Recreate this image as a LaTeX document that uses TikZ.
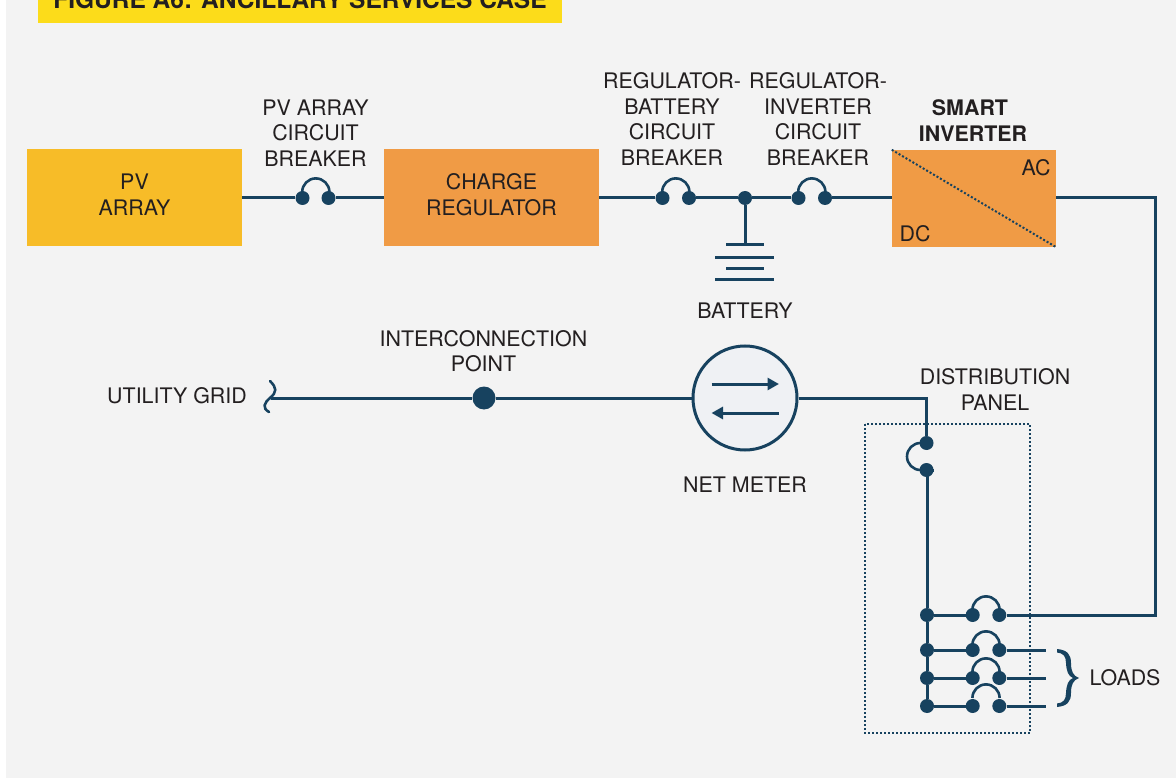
\documentclass[tikz,border=0pt]{standalone}
\usepackage{fontspec}
\setmainfont{TeX Gyre Heros}
\usetikzlibrary{arrows.meta}
\definecolor{wirec}{HTML}{17425F}
\definecolor{txtc}{HTML}{231F20}
\definecolor{pvc}{HTML}{F7BC28}
\definecolor{orc}{HTML}{F09B45}
\definecolor{hdc}{HTML}{FCDC1A}
\definecolor{bgc}{HTML}{F3F3F3}
\definecolor{mtc}{HTML}{EFF1F4}
\tikzset{
  x=1pt,y=1pt,
  wire/.style={draw=wirec,line width=3pt},
  thinwire/.style={draw=wirec,line width=2.6pt},
  dotline/.style={draw=wirec,line width=2pt,dash pattern=on 2pt off 2pt},
  lbl/.style={align=center,text=txtc,inner sep=0pt,font=\fontsize{21.4}{25.6}\selectfont},
  box/.style={lbl,rectangle,minimum width=#1,minimum height=97pt},
  jdot/.style={circle,fill=wirec,draw=none,minimum size=14pt,inner sep=0pt},
  bigdot/.style={circle,fill=wirec,draw=none,minimum size=23pt,inner sep=0pt},
}
\newcommand{\fusearc}[2]{\draw[thinwire] (#1) ++(-0.3,#2) arc[start angle=180,end angle=0,radius=13.6];}
\begin{document}
\begin{tikzpicture}
\useasboundingbox (0,0) rectangle (1176,-778);
\clip (0,0) rectangle (1176,-778);
\fill[white] (0,0) rectangle (1176,-778);
\fill[bgc] (6,0) rectangle (1176,-778);
% header
\node[fill=hdc,minimum width=524pt,minimum height=33pt,inner sep=0pt,anchor=south west] (hdr) at (38,-23) {};
\node[lbl,font=\fontsize{24.5}{28}\selectfont\bfseries,anchor=base] (title) at (300,-9) {FIGURE A6: ANCILLARY SERVICES CASE};
% boxes
\node[box=215pt,fill=pvc] (pv) at (134.5,-197.5) {};
\node[box=215pt,fill=orc] (cr) at (491.5,-197.5) {};
\node[lbl] (pvt) at (134.5,-194.5) {PV\\ARRAY};
\node[lbl] (crt) at (491.5,-194.5) {CHARGE\\REGULATOR};
\node[box=164pt,fill=orc] (inv) at (974,-198.5) {};
\draw[dotline] (inv.north west) -- (inv.south east);
\node[lbl] (ac) at (1036,-168) {AC};
\node[lbl] (dc) at (915,-234) {DC};
% top labels
\node[lbl] (l1) at (315.5,-133) {PV ARRAY\\CIRCUIT\\BREAKER};
\node[lbl] (l2) at (672,-119) {REGULATOR-\\BATTERY\\CIRCUIT\\BREAKER};
\node[lbl] (l3) at (818,-119) {REGULATOR-\\INVERTER\\CIRCUIT\\BREAKER};
\node[lbl,font=\fontsize{21.4}{25.6}\selectfont\bfseries] (l4a) at (970,-108) {SMART};
\node[lbl,font=\fontsize{21.4}{25.6}\selectfont\bfseries] (l4b) at (973,-134) {INVERTER};
\node[lbl] (batl) at (745,-311) {BATTERY};
\node[lbl] (ipl) at (483.5,-351) {INTERCONNECTION\\POINT};
\node[lbl] (ugl) at (177,-396) {UTILITY GRID};
\node[lbl] (nml) at (745,-485) {NET METER};
\node[lbl] (dpl) at (995,-389.5) {DISTRIBUTION\\PANEL};
\node[lbl] (lds) at (1125,-678) {LOADS};
% breaker dots, top row
\node[jdot] (f1a) at (302.5,-198) {};
\node[jdot] (f1b) at (328.5,-198) {};
\node[jdot] (f2a) at (662.5,-198) {};
\node[jdot] (f2b) at (689,-198) {};
\node[jdot] (jb) at (745,-198) {};
\node[jdot] (f3a) at (798.5,-198) {};
\node[jdot] (f3b) at (825,-198) {};
\draw[wire] (pv.east |- f1a) -- (f1a);
\draw[wire] (f1b) -- (cr.west |- f1b);
\draw[wire] (cr.east |- f2a) -- (f2a);
\draw[wire] (f2b) -- (jb);
\draw[wire] (jb) -- (f3a);
\draw[wire] (f3b) -- (inv.west |- f3b);
\fusearc{f1a}{6}
\fusearc{f2a}{6}
\fusearc{f3a}{6}
% battery
\coordinate (bt) at (745,-244.5);
\draw[wire] (jb) -- (bt);
\coordinate (p1l) at (726,-244.5); \coordinate (p1r) at (764,-244.5);
\coordinate (p2l) at (715,-258); \coordinate (p2r) at (774,-258);
\coordinate (p3l) at (726,-269); \coordinate (p3r) at (764,-269);
\coordinate (p4l) at (715,-280); \coordinate (p4r) at (774,-280);
\draw[wire] (p1l) -- (p1r);
\draw[wire] (p2l) -- (p2r);
\draw[wire] (p3l) -- (p3r);
\draw[wire] (p4l) -- (p4r);
% grid line and meter
\node[circle,draw=wirec,fill=mtc,line width=3pt,minimum size=104pt,inner sep=0pt] (nm) at (745,-398) {};
\node[bigdot] (ip) at (484,-398) {};
\coordinate (gs) at (271,-398);
\draw[wire] (gs) -- (ip);
\draw[wire] (ip) -- (nm);
\draw[thinwire,line cap=round] (270,-381) .. controls (277,-388) and (277,-392) .. (270,-398) .. controls (264,-403) and (262,-408) .. (269,-412);
\coordinate (a1s) at (711.5,-384); \coordinate (a1e) at (779,-384);
\coordinate (a2s) at (778.5,-413); \coordinate (a2e) at (711.5,-413);
\draw[wire,-{Triangle[length=11.5pt,width=12pt]}] (a1s) -- (a1e);
\draw[wire,-{Triangle[length=11.5pt,width=12pt]}] (a2s) -- (a2e);
% panel
\node[jdot] (pa) at (926.5,-443) {};
\node[jdot] (pb) at (926.5,-470) {};
\coordinate (nc) at (926.5,-398);
\draw[wire] (nm) -- (nc) -- (pa);
\draw[thinwire] (pa) ++(-6,0) arc[start angle=90,end angle=270,radius=13.5];
\node[jdot] (r1) at (927,-615) {};
\node[jdot] (r2) at (927,-650) {};
\node[jdot] (r3) at (927,-678) {};
\node[jdot] (r4) at (927,-706) {};
\node[jdot] (a1) at (972.7,-615) {};
\node[jdot] (b1) at (999.3,-615) {};
\node[jdot] (a2) at (972.7,-650) {};
\node[jdot] (b2) at (999.3,-650) {};
\node[jdot] (a3) at (972.7,-678) {};
\node[jdot] (b3) at (999.3,-678) {};
\node[jdot] (a4) at (972.7,-706) {};
\node[jdot] (b4) at (999.3,-706) {};
\draw[wire] (pb) -- (r1 |- pb) -- (r1);
\draw[wire] (r1) -- (r2);
\draw[wire] (r2) -- (r3);
\draw[wire] (r3) -- (r4);
\draw[wire] (r1) -- (a1);
\draw[wire] (r2) -- (a2);
\draw[wire] (r3) -- (a3);
\draw[wire] (r4) -- (a4);
\fusearc{a1}{5}
\fusearc{a2}{5}
\fusearc{a3}{6}
\fusearc{a4}{8}
\coordinate (l2e) at (1046,-650);
\coordinate (l3e) at (1046,-678);
\coordinate (l4e) at (1046,-706);
\draw[wire] (b2) -- (l2e);
\draw[wire] (b3) -- (l3e);
\draw[wire] (b4) -- (l4e);
\coordinate (c1) at (1155,-198);
\coordinate (c2) at (1155,-615);
\draw[wire] (inv.east |- c1) -- (c1) -- (c2) -- (b1);
\draw[dotline] (865,-424) rectangle (1030,-733);
% brace
\fill[wirec] (1057,-649) .. controls (1067,-650) and (1071,-654) .. (1071,-663)
  .. controls (1071,-671) and (1073,-676) .. (1079,-678)
  .. controls (1073,-680) and (1071,-685) .. (1071,-693)
  .. controls (1071,-702) and (1067,-706) .. (1057,-707)
  -- (1057,-703.5) .. controls (1063,-703) and (1066,-700) .. (1066,-693)
  .. controls (1066.5,-685) and (1068,-680) .. (1073,-678)
  .. controls (1068,-676) and (1066.5,-671) .. (1066,-663)
  .. controls (1066,-656) and (1063,-653) .. (1057,-652.5) -- cycle;
\end{tikzpicture}
\end{document}
